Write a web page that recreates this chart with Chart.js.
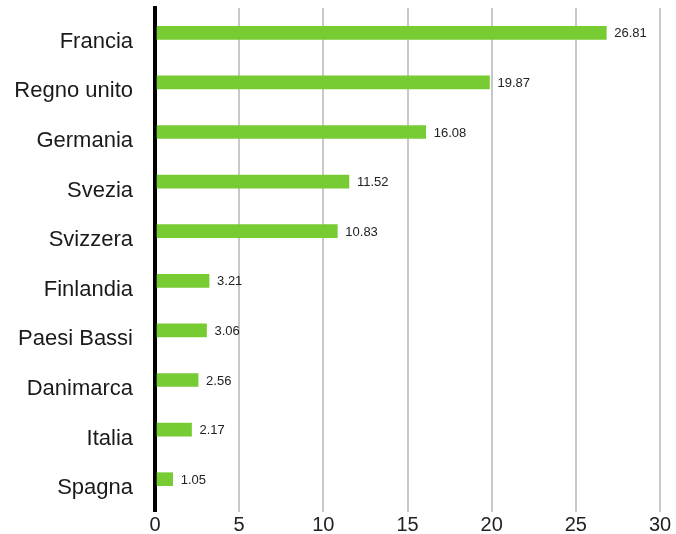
<!DOCTYPE html>
<html>
<head>
<meta charset="utf-8">
<script src="https://cdn.jsdelivr.net/npm/chart.js@4"></script>
<style>
  html, body { margin: 0; padding: 0; background: #fff; }
  #wrap { width: 676px; height: 534px; }
</style>
</head>
<body>
<div id="wrap"><canvas id="chart" width="676" height="534"></canvas></div>
<script>
// Data
const countries = ['Francia', 'Regno unito', 'Germania', 'Svezia', 'Svizzera',
                   'Finlandia', 'Paesi Bassi', 'Danimarca', 'Italia', 'Spagna'];
const values = [26.81, 19.87, 16.08, 11.52, 10.83, 3.21, 3.06, 2.56, 2.17, 1.05];
const xTicks = [0, 5, 10, 15, 20, 25, 30];

const fontFamily = '"Liberation Sans", Arial, sans-serif';

// Value labels at the end of each bar
const valueLabels = {
    id: 'valueLabels',
    afterDatasetsDraw(chart) {
        const ctx = chart.ctx;
        const meta = chart.getDatasetMeta(0);
        ctx.save();
        ctx.font = '13px ' + fontFamily;
        ctx.fillStyle = '#222';
        ctx.textBaseline = 'middle';
        ctx.textAlign = 'left';
        meta.data.forEach((bar, i) => {
            ctx.fillText(values[i].toFixed(2), bar.x + 8, bar.y + 1);
        });
        ctx.restore();
    }
};

const ctx = document.getElementById('chart').getContext('2d');
new Chart(ctx, {
    type: 'bar',
    data: {
        labels: countries,
        datasets: [{
            data: values,
            backgroundColor: '#77cb33',
            barThickness: 13
        }]
    },
    options: {
        indexAxis: 'y',
        responsive: false,
        animation: false,
        layout: { padding: { top: 8, right: 16, left: 0, bottom: 0 } },
        plugins: {
            legend: { display: false },
            tooltip: { enabled: false }
        },
        scales: {
            x: {
                min: 0,
                max: 30,
                afterBuildTicks: (scale) => { scale.ticks = xTicks.map(v => ({ value: v })); },
                afterFit: (scale) => {
                    scale.height = 30;
                    scale.paddingLeft = 0;
                    scale.paddingRight = 0;
                },
                border: { display: false },
                grid: {
                    color: (c) => c.tick && c.tick.value === 0 ? '#000' : '#c8c8c8',
                    lineWidth: (c) => c.tick && c.tick.value === 0 ? 4 : 2,
                    tickLength: 8,
                    drawTicks: true
                },
                ticks: {
                    font: { family: fontFamily, size: 20 },
                    color: '#222',
                    padding: 1,
                    maxRotation: 0
                }
            },
            y: {
                afterFit: (scale) => {
                    scale.width = 155;
                    scale.paddingTop = 0;
                    scale.paddingBottom = 0;
                },
                border: { display: true, color: '#000', width: 4 },
                grid: { display: false },
                ticks: {
                    font: { family: fontFamily, size: 22 },
                    color: '#1a1a1a',
                    padding: 14,
                    labelOffset: 9
                }
            }
        }
    },
    plugins: [valueLabels]
});
</script>
</body>
</html>
